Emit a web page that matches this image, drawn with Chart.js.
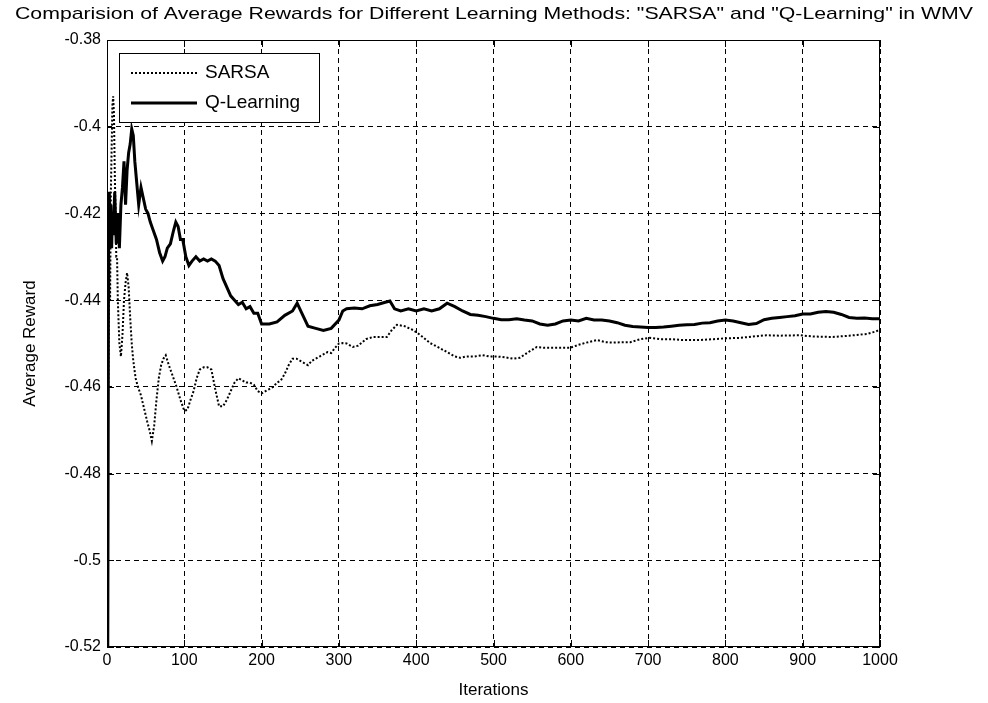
<!DOCTYPE html>
<html>
<head>
<meta charset="utf-8">
<script src="https://cdn.jsdelivr.net/npm/chart.js@4.4.1/dist/chart.umd.min.js"></script>
<style>
  html, body { margin: 0; padding: 0; background: #fff; }
  canvas { display: block; }
</style>
</head>
<body>
<canvas id="chart" width="988" height="703"></canvas>
<script>
// MATLAB-style figure: SARSA vs Q-Learning average reward
const titleText = 'Comparision of Average Rewards for Different Learning Methods: "SARSA" and "Q-Learning" in WMV';
const xLabel = 'Iterations';
const yLabel = 'Average Reward';
const seriesNames = ['SARSA', 'Q-Learning'];

const sarsaIter = [1, 2, 3, 4, 5, 6, 7, 8, 9, 10, 11, 12, 13, 14, 16, 18, 20, 22, 24, 26, 28, 30, 32, 34, 37, 40,
  44, 48, 52, 55, 58, 61, 64, 67, 70, 73, 76, 80, 85, 90, 95, 100, 104, 108, 112, 116, 120, 125, 130, 135,
  140, 145, 150, 155, 160, 165, 170, 175, 180, 185, 190, 195, 200, 205, 210, 215, 220, 225, 230, 235, 240,
  245, 250, 255, 260, 265, 270, 275, 280, 285, 290, 295, 300, 305, 310, 318, 325, 335, 344, 355, 362, 368,
  375, 385, 396, 405, 418, 430, 440, 450, 457, 465, 475, 486, 495, 505, 515, 525, 534, 545, 556, 565, 575,
  585, 599, 610, 620, 634, 645, 655, 665, 677, 690, 702, 715, 730, 745, 767, 785, 800, 819, 835, 853, 870,
  896, 915, 939, 960, 983, 995, 1000];
const sarsaReward = [-0.472, -0.45, -0.43, -0.44, -0.415, -0.405, -0.395, -0.393, -0.397, -0.41, -0.42, -0.43,
  -0.43, -0.44, -0.45, -0.453, -0.448, -0.44, -0.436, -0.4337, -0.437, -0.444, -0.45, -0.454, -0.458, -0.46,
  -0.462, -0.465, -0.468, -0.47, -0.4725, -0.469, -0.463, -0.458, -0.455, -0.4535, -0.4527, -0.455, -0.4575,
  -0.46, -0.463, -0.4655, -0.4653, -0.463, -0.461, -0.458, -0.456, -0.4555, -0.4555, -0.456, -0.4605, -0.4645,
  -0.4645, -0.463, -0.461, -0.459, -0.458, -0.4585, -0.459, -0.459, -0.4595, -0.461, -0.4615, -0.461, -0.4605,
  -0.46, -0.459, -0.4585, -0.457, -0.455, -0.4535, -0.4535, -0.454, -0.4545, -0.455, -0.454, -0.4535, -0.453,
  -0.4525, -0.452, -0.4522, -0.451, -0.45, -0.4499, -0.45, -0.4508, -0.4505, -0.449, -0.4485, -0.4485, -0.4485,
  -0.447, -0.4457, -0.446, -0.4469, -0.448, -0.4499, -0.451, -0.452, -0.453, -0.4533, -0.453, -0.453, -0.4527,
  -0.453, -0.453, -0.4532, -0.4535, -0.4533, -0.452, -0.4508, -0.451, -0.451, -0.451, -0.451, -0.4503, -0.4498,
  -0.4492, -0.4497, -0.4498, -0.4497, -0.4497, -0.449, -0.4487, -0.449, -0.449, -0.4492, -0.4492, -0.449,
  -0.4488, -0.4487, -0.4484, -0.4481, -0.4482, -0.4481, -0.4484, -0.4485, -0.4482, -0.4478, -0.4472, -0.4467];

const qIter = [1, 2, 3, 4, 5, 6, 7, 8, 10, 12, 14, 16, 18, 20, 22, 24, 26, 28, 30, 32, 34, 36, 38, 41, 44, 47,
  50, 53, 56, 60, 64, 68, 72, 75, 78, 82, 86, 89, 92, 95, 98, 102, 106, 110, 115, 120, 125, 130, 135, 140,
  145, 150, 155, 160, 165, 170, 175, 180, 185, 190, 195, 200, 210, 220, 230, 240, 246, 252, 260, 270, 280,
  290, 300, 305, 310, 320, 330, 340, 350, 360, 366, 372, 380, 390, 400, 410, 420, 430, 440, 450, 460, 470,
  480, 490, 500, 510, 520, 530, 540, 550, 560, 570, 580, 590, 600, 610, 620, 630, 640, 650, 660, 670, 680,
  690, 700, 710, 720, 730, 740, 750, 760, 770, 780, 790, 800, 810, 820, 830, 840, 850, 860, 870, 880, 890,
  900, 910, 920, 930, 940, 950, 960, 970, 980, 990, 1000];
const qReward = [-0.52, -0.43, -0.415, -0.425, -0.418, -0.428, -0.42, -0.425, -0.415, -0.427, -0.42, -0.428,
  -0.418, -0.414, -0.408, -0.418, -0.41, -0.406, -0.404, -0.4005, -0.402, -0.408, -0.412, -0.418, -0.414,
  -0.4165, -0.419, -0.42, -0.422, -0.424, -0.426, -0.429, -0.431, -0.43, -0.428, -0.427, -0.424, -0.422,
  -0.423, -0.426, -0.426, -0.43, -0.432, -0.431, -0.43, -0.431, -0.4305, -0.431, -0.4305, -0.431, -0.432,
  -0.435, -0.437, -0.439, -0.44, -0.441, -0.4405, -0.442, -0.4415, -0.443, -0.443, -0.4455, -0.4455, -0.445,
  -0.4435, -0.4425, -0.4407, -0.443, -0.446, -0.4465, -0.447, -0.4465, -0.4446, -0.4425, -0.442, -0.4418,
  -0.442, -0.4413, -0.441, -0.4405, -0.4402, -0.442, -0.4425, -0.442, -0.4425, -0.442, -0.4425, -0.442,
  -0.4407, -0.4415, -0.4425, -0.4433, -0.4435, -0.4438, -0.4442, -0.4445, -0.4445, -0.4443, -0.4446, -0.4448,
  -0.4455, -0.4458, -0.4455, -0.4448, -0.4446, -0.4448, -0.4442, -0.4446, -0.4446, -0.4448, -0.4452, -0.4458,
  -0.4461, -0.4462, -0.4463, -0.4463, -0.4462, -0.446, -0.4458, -0.4457, -0.4456, -0.4453, -0.4452, -0.4448,
  -0.4446, -0.4448, -0.4452, -0.4456, -0.4454, -0.4445, -0.4442, -0.444, -0.4438, -0.4436, -0.4432, -0.4432,
  -0.4428, -0.4426, -0.4428, -0.4433, -0.444, -0.4442, -0.4441, -0.4443, -0.4443];

const SANS = '"Liberation Sans", Arial, sans-serif';

const toPoints = (xs, ys) => xs.map((x, i) => ({ x, y: ys[i] }));

// frame, inward tick marks, title and boxed legend in MATLAB style
const matlabFrame = {
  id: 'matlabFrame',
  afterDraw(chart) {
    const { ctx, chartArea: a, scales } = chart;
    ctx.save();
    ctx.strokeStyle = '#000';
    ctx.lineWidth = 1;
    ctx.setLineDash([]);
    ctx.strokeRect(a.left + 0.5, a.top + 0.5, a.right - a.left - 1, a.bottom - a.top - 1);

    const tl = 7;
    ctx.beginPath();
    scales.x.ticks.forEach((t) => {
      const px = Math.round(scales.x.getPixelForValue(t.value)) + 0.5;
      ctx.moveTo(px, a.bottom); ctx.lineTo(px, a.bottom - tl);
      ctx.moveTo(px, a.top); ctx.lineTo(px, a.top + tl);
    });
    scales.y.ticks.forEach((t) => {
      const py = Math.round(scales.y.getPixelForValue(t.value)) + 0.5;
      ctx.moveTo(a.left, py); ctx.lineTo(a.left + tl, py);
      ctx.moveTo(a.right, py); ctx.lineTo(a.right - tl, py);
    });
    ctx.stroke();

    // title, stretched to the figure's width
    ctx.font = '17px ' + SANS;
    ctx.fillStyle = '#000';
    ctx.textBaseline = 'middle';
    ctx.textAlign = 'center';
    const tw = ctx.measureText(titleText).width;
    ctx.save();
    ctx.translate(494, 14);
    ctx.scale(958 / tw, 1);
    ctx.fillText(titleText, 0, 0);
    ctx.restore();

    // legend
    const lx = 119, ly = 53, lw = 200, lh = 69;
    ctx.fillStyle = '#fff';
    ctx.fillRect(lx, ly, lw, lh);
    ctx.strokeRect(lx + 0.5, ly + 0.5, lw, lh);
    ctx.font = '19px ' + SANS;
    ctx.textAlign = 'left';
    chart.data.datasets.forEach((ds, i) => {
      const y = ly + 20 + i * 30;
      ctx.strokeStyle = '#000';
      ctx.lineWidth = ds.borderWidth;
      ctx.setLineDash(ds.borderDash || []);
      ctx.beginPath();
      ctx.moveTo(131, y); ctx.lineTo(197, y);
      ctx.stroke();
      ctx.setLineDash([]);
      ctx.fillStyle = '#000';
      ctx.fillText(ds.label, 205, y);
    });
    ctx.restore();
  }
};

new Chart(document.getElementById('chart'), {
  type: 'line',
  data: {
    datasets: [
      {
        label: seriesNames[0],
        data: toPoints(sarsaIter, sarsaReward),
        borderColor: '#000',
        borderWidth: 2,
        borderDash: [2, 2],
        pointRadius: 0,
        tension: 0,
        fill: false,
      },
      {
        label: seriesNames[1],
        data: toPoints(qIter, qReward),
        borderColor: '#000',
        borderWidth: 3,
        pointRadius: 0,
        tension: 0,
        fill: false,
      },
    ],
  },
  options: {
    responsive: false,
    animation: false,
    devicePixelRatio: 1,
    layout: { padding: { top: 40, right: 108, left: 0, bottom: 0 } },
    plugins: {
      legend: { display: false },
      title: { display: false },
      tooltip: { enabled: false },
    },
    scales: {
      x: {
        type: 'linear',
        min: 0,
        max: 1000,
        afterFit: (s) => { s.height = 56; },
        ticks: {
          stepSize: 100,
          padding: 4,
          color: '#000',
          maxRotation: 0,
          font: { family: SANS, size: 16 },
          callback: (v) => String(v),
        },
        grid: { color: '#000', lineWidth: 1, drawTicks: false },
        border: { display: false, dash: [5, 4] },
        title: {
          display: true,
          text: xLabel,
          color: '#000',
          font: { family: SANS, size: 17 },
          padding: { top: 0, bottom: 2 },
        },
      },
      y: {
        min: -0.52,
        max: -0.38,
        afterFit: (s) => { s.width = 107; },
        ticks: {
          stepSize: 0.02,
          padding: 6,
          color: '#000',
          font: { family: SANS, size: 16 },
          callback: (v) => String(Number(v.toFixed(2))),
        },
        grid: { color: '#000', lineWidth: 1, drawTicks: false },
        border: { display: false, dash: [5, 4] },
        title: {
          display: true,
          text: yLabel,
          color: '#000',
          font: { family: SANS, size: 17 },
          padding: { top: 20, bottom: 0 },
        },
      },
    },
  },
  plugins: [matlabFrame],
});
</script>
</body>
</html>
